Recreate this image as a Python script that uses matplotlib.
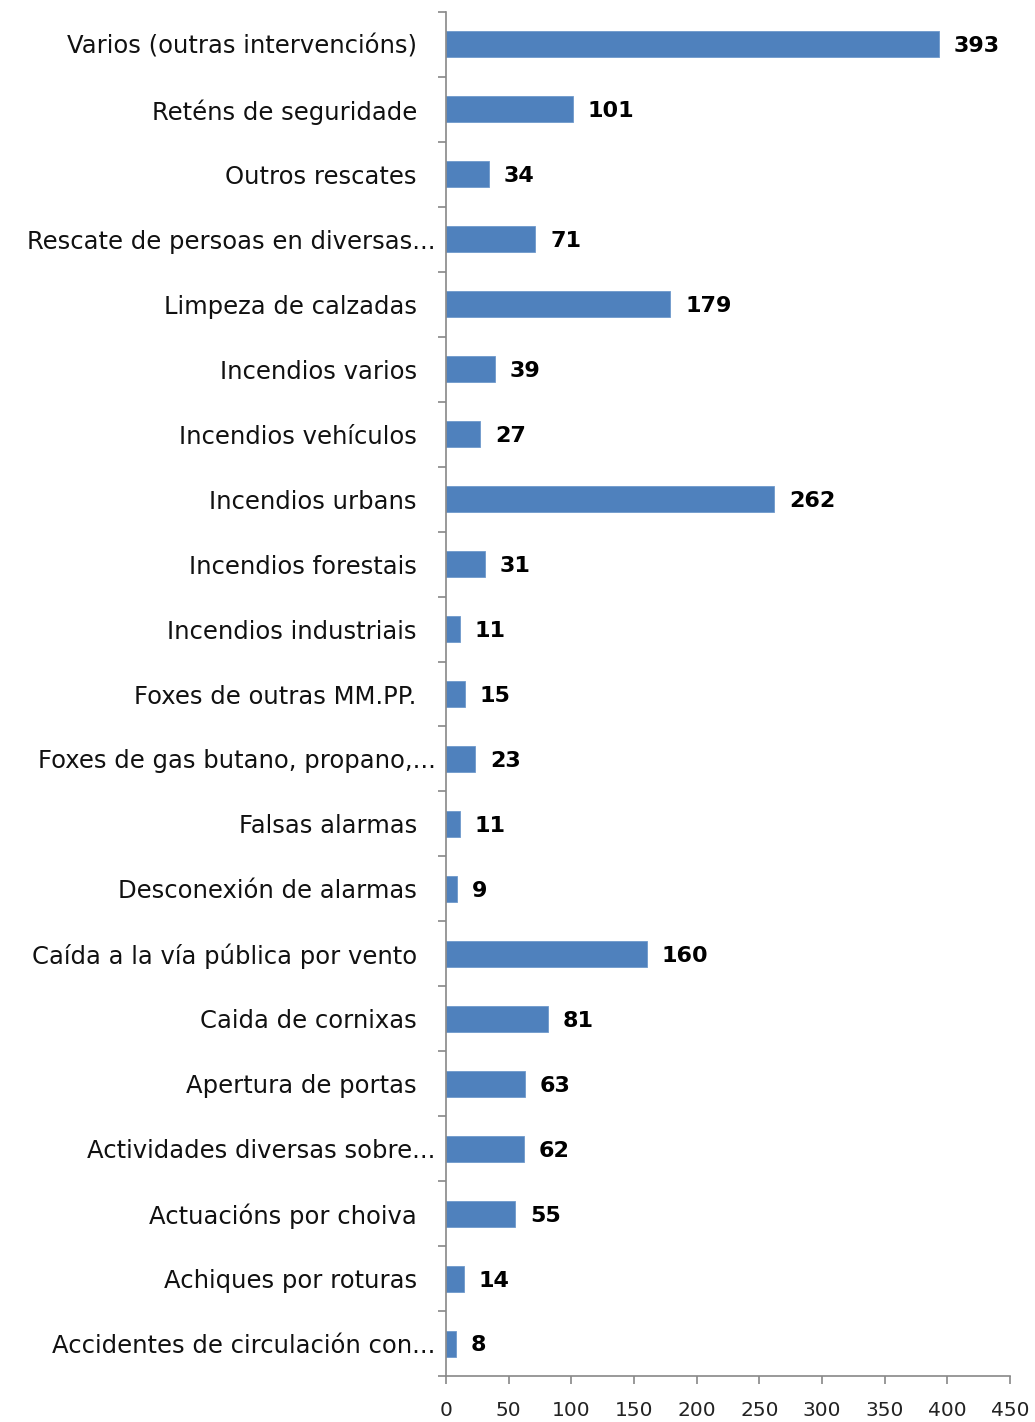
import matplotlib
matplotlib.use("Agg")
import matplotlib.pyplot as plt
import matplotlib.transforms as mtransforms
import numpy as np

categories = [
    "Varios (outras intervencións)",
    "Reténs de seguridade",
    "Outros rescates",
    "Rescate de persoas en diversas...",
    "Limpeza de calzadas",
    "Incendios varios",
    "Incendios vehículos",
    "Incendios urbans",
    "Incendios forestais",
    "Incendios industriais",
    "Foxes de outras MM.PP.",
    "Foxes de gas butano, propano,...",
    "Falsas alarmas",
    "Desconexión de alarmas",
    "Caída a la vía pública por vento",
    "Caida de cornixas",
    "Apertura de portas",
    "Actividades diversas sobre...",
    "Actuacións por choiva",
    "Achiques por roturas",
    "Accidentes de circulación con...",
]
values = [393, 101, 34, 71, 179, 39, 27, 262, 31, 11, 15, 23, 11, 9, 160, 81, 63, 62, 55, 14, 8]
xticks = [0, 50, 100, 150, 200, 250, 300, 350, 400, 450]

plt.rcParams['font.family'] = ['DejaVu Sans']

fig = plt.figure(figsize=(10.35, 14.22), dpi=100)
ax = fig.add_axes([446/1035, 1 - 1376/1422, (1010-446)/1035, (1376-12)/1422])

n = len(categories)
y = np.arange(n)[::-1]
ax.barh(y, values, height=0.4, color='#4F81BD', edgecolor='#6f99cc', linewidth=0.6)

for yi, v in zip(y, values):
    ax.text(v + 12, yi - 0.03, str(v), va='center', ha='left', fontsize=16, fontweight='bold', color='black')

ax.set_xlim(0, 450)
ax.set_ylim(-0.5, n - 0.5)
ax.set_xticks(xticks)
ax.set_xticklabels([str(t) for t in xticks], fontsize=14.5, color='#222222')
ax.set_yticks(y)
ax.set_yticklabels(categories, fontsize=17.5, color='#111111')
ax.set_yticks(np.arange(n + 1) - 0.5, minor=True)

ax.tick_params(axis='y', which='major', length=0, pad=21)
ax.tick_params(axis='y', which='minor', length=6, width=1.2, color='#888888', direction='out')
ax.tick_params(axis='x', which='major', length=6, width=1.2, color='#888888', direction='out', pad=12)

# truncated labels sit closer to the axis
shift = mtransforms.ScaledTranslation(19/100, 0, fig.dpi_scale_trans)
for lab in ax.get_yticklabels():
    if lab.get_text().endswith('...'):
        lab.set_transform(lab.get_transform() + shift)

for s in ['top', 'right']:
    ax.spines[s].set_visible(False)
for s in ['left', 'bottom']:
    ax.spines[s].set_color('#888888')
    ax.spines[s].set_linewidth(1.2)

fig.savefig('out.png', dpi=100)
